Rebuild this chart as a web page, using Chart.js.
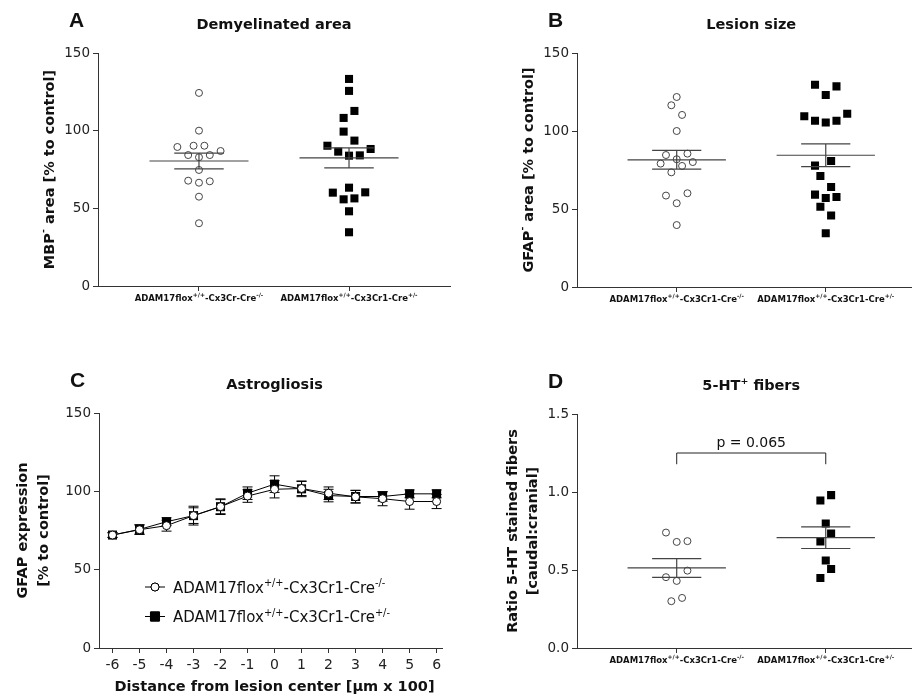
<!DOCTYPE html>
<html>
<head>
<meta charset="utf-8">
<script src="https://cdn.jsdelivr.net/npm/chart.js@4.4.1/dist/chart.umd.min.js"></script>
<style>
  body { margin: 0; background: #fff; }
  .panel { position: absolute; }
</style>
</head>
<body>
  <canvas id="chartA" class="panel" width="458" height="320" style="left:0;top:0"></canvas>
  <canvas id="chartB" class="panel" width="459" height="320" style="left:458px;top:0"></canvas>
  <canvas id="chartC" class="panel" width="458" height="378" style="left:0;top:320px"></canvas>
  <canvas id="chartD" class="panel" width="459" height="378" style="left:458px;top:320px"></canvas>
<script>
// ---------- data ----------
const groupLabelsA = ['ADAM17flox^{+/+}-Cx3Cr-Cre^{-/-}', 'ADAM17flox^{+/+}-Cx3Cr1-Cre^{+/-}'];
const groupLabels = ['ADAM17flox^{+/+}-Cx3Cr1-Cre^{-/-}', 'ADAM17flox^{+/+}-Cx3Cr1-Cre^{+/-}'];

// A: demyelinated area, MBP- area [% to control]
const demyWT = [124.3, 100, 89.5, 90.3, 90.3, 86.9, 84.3, 84.3, 82.9, 74.7, 67.8, 67.4, 66.5, 57.5, 40.4];
const demyWTJit = [0, 0, -4, -1, 1, 4, -2, 2, 0, 0, -2, 2, 0, 0, 0];
const demyKO = [133.3, 125.6, 112.7, 108.2, 99.4, 93.6, 90.3, 88.2, 86.5, 83.9, 84.1, 63.3, 60.1, 60.3, 55.8, 56.4, 48.1, 34.6];
const demyKOJit = [0, 0, 1, -1, -1, 1, -4, 4, -2, 0, 2, 0, -3, 3, -1, 1, 0, 0];

// B: lesion size, GFAP- area [% to control]
const lesionWT = [121.8, 116.5, 110.3, 100, 84.6, 85.5, 81.9, 79.1, 80.1, 77.6, 73.5, 60.1, 58.6, 53.7, 39.7];
const lesionWTJit = [0, -1, 1, 0, -2, 2, 0, -3, 3, 1, -1, 2, -2, 0, 0];
const lesionKO = [129.7, 128.6, 123.1, 109.4, 106.6, 105.4, 106.6, 111.1, 80.8, 77.8, 71.2, 64.1, 59.2, 57.1, 57.7, 51.5, 45.8, 34.4];
const lesionKOJit = [-2, 2, 0, -4, -2, 0, 2, 4, 1, -2, -1, 1, -2, 0, 2, -1, 1, 0];

// C: astrogliosis, GFAP expression [% to control] vs distance [µm x 100]
const distance = [-6, -5, -4, -3, -2, -1, 0, 1, 2, 3, 4, 5, 6];
const astroWT = [72.1, 75.5, 78.1, 84.5, 90.2, 97.0, 101.3, 101.8, 98.8, 96.5, 95.3, 93.5, 93.5];
const astroWTSem = [1.5, 3, 3.5, 5, 4.5, 4, 5.5, 4.5, 4, 4, 4.5, 4.9, 4.5];
const astroKO = [72.1, 75.7, 80.6, 84.5, 90.2, 98.8, 104.6, 101.6, 97.3, 96.7, 96.7, 98.4, 98.4];
const astroKOSem = [1.5, 3, 2.5, 6, 5, 4, 5.3, 5, 4, 4, 3, 2.5, 2.5];
const legendLabels = ['ADAM17flox^{+/+}-Cx3Cr1-Cre^{-/-}', 'ADAM17flox^{+/+}-Cx3Cr1-Cre^{+/-}'];

// D: 5-HT+ fibers, ratio caudal:cranial
const fibersWT = [0.740, 0.680, 0.685, 0.496, 0.454, 0.430, 0.321, 0.300];
const fibersWTJit = [-2, 0, 2, 2, -2, 0, 1, -1];
const fibersKO = [0.980, 0.946, 0.798, 0.734, 0.683, 0.561, 0.507, 0.449];
const fibersKOJit = [1, -1, 0, 1, -1, 0, 1, -1];
const pValueText = 'p = 0.065';

const ticksPercent = [0, 50, 100, 150];
const ticksRatio = [0, 0.5, 1.0, 1.5];

// ---------- styling ----------
const FONT = '"DejaVu Sans", Verdana, sans-serif';
const LETTER_FONT = '"Liberation Sans", Arial, sans-serif';
const INK = '#111';
const AXIS = '#333';
const SLOT = 0.036; // spacing of side-by-side dots, in group units

function meanSem(v) {
  const n = v.length;
  const m = v.reduce((a, b) => a + b, 0) / n;
  const sd = Math.sqrt(v.reduce((a, b) => a + (b - m) ** 2, 0) / (n - 1));
  return [m, sd / Math.sqrt(n)];
}

function parseRich(s) {
  const parts = [];
  const re = /\^\{([^}]*)\}/g;
  let last = 0, m;
  while ((m = re.exec(s))) {
    if (m.index > last) parts.push({ t: s.slice(last, m.index), sup: false });
    parts.push({ t: m[1], sup: true });
    last = re.lastIndex;
  }
  if (last < s.length) parts.push({ t: s.slice(last), sup: false });
  return parts;
}

// text with ^{superscripts}, baseline at y
function drawRich(ctx, s, x, y, o) {
  const parts = parseRich(s);
  const w8 = o.weight || 'normal';
  const fam = o.family || FONT;
  const base = w8 + ' ' + o.size + 'px ' + fam;
  const sup = w8 + ' ' + (o.size * (o.supScale || 0.65)) + 'px ' + fam;
  ctx.save();
  ctx.translate(x, y);
  if (o.rotate) ctx.rotate(o.rotate);
  let w = 0;
  parts.forEach(p => { ctx.font = p.sup ? sup : base; p.w = ctx.measureText(p.t).width; w += p.w; });
  let cx = o.align === 'left' ? 0 : -w / 2;
  ctx.fillStyle = o.color || INK;
  ctx.textBaseline = o.baseline || 'alphabetic';
  ctx.textAlign = 'left';
  parts.forEach(p => {
    ctx.font = p.sup ? sup : base;
    ctx.fillText(p.t, cx, p.sup ? -o.size * 0.42 : 0);
    cx += p.w;
  });
  ctx.restore();
}

const panels = {
  chartA: { letter: 'A', title: 'Demyelinated area', titleX: 1.5,
            yTitle: ['MBP^{-} area [% to control]'], yTitleOff: [-48],
            xLabels: groupLabelsA, groups: [demyWT, demyKO] },
  chartB: { letter: 'B', title: 'Lesion size', titleX: 1.5,
            yTitle: ['GFAP^{-} area [% to control]'], yTitleOff: [-48],
            xLabels: groupLabels, groups: [lesionWT, lesionKO] },
  chartC: { letter: 'C', title: 'Astrogliosis', titleX: 0,
            yTitle: ['GFAP expression', '[% to control]'], yTitleOff: [-76, -55],
            xTitle: 'Distance from lesion center [µm x 100]',
            errors: [astroWTSem, astroKOSem], legend: legendLabels },
  chartD: { letter: 'D', title: '5-HT^{+} fibers', titleX: 1.5,
            yTitle: ['Ratio 5-HT stained fibers', '[caudal:cranial]'], yTitleOff: [-64, -44],
            xLabels: groupLabels, groups: [fibersWT, fibersKO],
            bracket: { from: 1, to: 2, y: 1.25, drop: 0.072, text: pValueText } }
};

const decor = {
  id: 'decor',
  beforeDatasetsDraw(chart) {
    const p = panels[chart.canvas.id];
    if (!p.errors) return;
    const { ctx, scales: { x, y } } = chart;
    ctx.save();
    ctx.strokeStyle = '#000';
    ctx.lineWidth = 1;
    p.errors.forEach((sem, di) => {
      chart.data.datasets[di].data.forEach((pt, i) => {
        const px = x.getPixelForValue(pt.x);
        const top = y.getPixelForValue(pt.y + sem[i]);
        const bot = y.getPixelForValue(pt.y - sem[i]);
        ctx.beginPath();
        ctx.moveTo(px, top); ctx.lineTo(px, bot);
        ctx.moveTo(px - 5, top); ctx.lineTo(px + 5, top);
        ctx.moveTo(px - 5, bot); ctx.lineTo(px + 5, bot);
        ctx.stroke();
      });
    });
    ctx.restore();
  },
  afterDatasetsDraw(chart) {
    const p = panels[chart.canvas.id];
    if (!p.groups) return;
    const { ctx, scales: { x, y } } = chart;
    ctx.save();
    ctx.strokeStyle = '#444';
    ctx.lineWidth = 1.2;
    p.groups.forEach((vals, gi) => {
      const g = gi + 1;
      const [m, se] = meanSem(vals);
      const ym = y.getPixelForValue(m), yt = y.getPixelForValue(m + se), yb = y.getPixelForValue(m - se);
      const xl = x.getPixelForValue(g - 0.33), xr = x.getPixelForValue(g + 0.33);
      const sl = x.getPixelForValue(g - 0.165), sr = x.getPixelForValue(g + 0.165);
      const xc = x.getPixelForValue(g);
      ctx.beginPath();
      ctx.moveTo(xl, ym); ctx.lineTo(xr, ym);
      ctx.moveTo(sl, yt); ctx.lineTo(sr, yt);
      ctx.moveTo(sl, yb); ctx.lineTo(sr, yb);
      ctx.moveTo(xc, yt); ctx.lineTo(xc, yb);
      ctx.stroke();
    });
    ctx.restore();
  },
  afterDraw(chart) {
    const p = panels[chart.canvas.id];
    const { ctx, chartArea: a, scales: { x, y } } = chart;
    // panel letter + title
    ctx.save();
    ctx.fillStyle = INK;
    ctx.font = 'bold 21px ' + LETTER_FONT;
    ctx.textBaseline = 'alphabetic';
    ctx.textAlign = 'left';
    ctx.fillText(p.letter, a.left - 29, a.top - 26);
    ctx.restore();
    drawRich(ctx, p.title, x.getPixelForValue(p.titleX), a.top - 24, { size: 14.5, weight: 'bold' });
    // y title(s)
    const cy = (a.top + a.bottom) / 2;
    p.yTitle.forEach((t, i) => {
      drawRich(ctx, t, a.left + p.yTitleOff[i], cy, { size: 14.5, weight: 'bold', rotate: -Math.PI / 2, baseline: 'middle' });
    });
    // group labels under the x axis
    if (p.xLabels) {
      p.xLabels.forEach((t, i) => {
        drawRich(ctx, t, x.getPixelForValue(i + 1), a.bottom + 15, { size: 8.5, weight: 'bold', supScale: 0.7 });
      });
    }
    if (p.xTitle) {
      drawRich(ctx, p.xTitle, x.getPixelForValue(0), a.bottom + 43, { size: 14.5, weight: 'bold' });
    }
    // legend (panel C)
    if (p.legend) {
      p.legend.forEach((t, i) => {
        const ds = chart.data.datasets[i];
        const lx = a.left + 46, ly = a.bottom - 61 + i * 29.5;
        ctx.save();
        ctx.strokeStyle = '#000';
        ctx.lineWidth = 1;
        ctx.beginPath(); ctx.moveTo(lx, ly); ctx.lineTo(lx + 20, ly); ctx.stroke();
        Chart.helpers.drawPoint(ctx, {
          pointStyle: ds.pointStyle, radius: ds.pointRadius, borderWidth: ds.borderWidth, rotation: 0
        }, lx + 10, ly);
        ctx.fillStyle = ds.pointBackgroundColor;
        ctx.strokeStyle = '#000';
        ctx.fill();
        if (ds.borderWidth) ctx.stroke();
        ctx.restore();
        drawRich(ctx, t, lx + 28, ly + 5.5, { size: 15, align: 'left' });
      });
    }
    // significance bracket (panel D)
    if (p.bracket) {
      const b = p.bracket;
      const x1 = x.getPixelForValue(b.from), x2 = x.getPixelForValue(b.to);
      const yt = y.getPixelForValue(b.y), yd = y.getPixelForValue(b.y - b.drop);
      ctx.save();
      ctx.strokeStyle = '#222';
      ctx.lineWidth = 1;
      ctx.beginPath();
      ctx.moveTo(x1, yd); ctx.lineTo(x1, yt); ctx.lineTo(x2, yt); ctx.lineTo(x2, yd);
      ctx.stroke();
      ctx.restore();
      drawRich(ctx, b.text, (x1 + x2) / 2, yt - 6, { size: 14 });
    }
  }
};

function dots(values, jit, group, open) {
  return {
    data: values.map((v, i) => ({ x: group + jit[i] * SLOT, y: v })),
    pointStyle: open ? 'circle' : 'rect',
    pointRadius: open ? 3.5 : 5.7,
    borderWidth: open ? 1 : 0,
    borderColor: open ? '#444' : '#000',
    backgroundColor: open ? 'rgba(255,255,255,0)' : '#000'
  };
}

function gridOpts() {
  return {
    grid: { drawOnChartArea: false, drawTicks: true, tickLength: 5, color: AXIS, tickColor: AXIS, lineWidth: 1 },
    border: { display: true, color: AXIS, width: 1 }
  };
}

function yAxis(max, ticks, width, digits) {
  return Object.assign(gridOpts(), {
    min: 0, max: max,
    afterBuildTicks: s => { s.ticks = ticks.map(v => ({ value: v })); },
    afterFit: s => { s.width = width; },
    ticks: { font: { family: FONT, size: 13.5 }, color: '#222', padding: 3,
             callback: v => v.toFixed(digits) }
  });
}

function groupAxis(min, max, height) {
  return Object.assign(gridOpts(), {
    type: 'linear', min: min, max: max,
    afterBuildTicks: s => { s.ticks = [{ value: 1 }, { value: 2 }]; },
    afterFit: s => { s.height = height; },
    ticks: { display: false }
  });
}

const common = {
  responsive: false,
  animation: false,
  events: [],
  plugins: { legend: { display: false }, tooltip: { enabled: false } }
};

function scatterPanel(id, wt, wtJit, ko, koJit, yMax, yTicks, digits, xMin, xMax, pad, yWidth, xHeight) {
  new Chart(document.getElementById(id), {
    type: 'scatter',
    data: { datasets: [dots(wt, wtJit, 1, true), dots(ko, koJit, 2, false)] },
    options: Object.assign({}, common, {
      layout: { padding: pad },
      scales: { x: groupAxis(xMin, xMax, xHeight), y: yAxis(yMax, yTicks, yWidth, digits) }
    }),
    plugins: [decor]
  });
}

scatterPanel('chartA', demyWT, demyWTJit, demyKO, demyKOJit, 150, ticksPercent, 0,
  0.327, 2.673, { left: 0, top: 53, right: 8, bottom: 0 }, 98, 34);
scatterPanel('chartB', lesionWT, lesionWTJit, lesionKO, lesionKOJit, 150, ticksPercent, 0,
  0.331, 2.574, { left: 0, top: 53, right: 1, bottom: 0 }, 119, 33);
scatterPanel('chartD', fibersWT, fibersWTJit, fibersKO, fibersKOJit, 1.5, ticksRatio, 1,
  0.331, 2.574, { left: 0, top: 94, right: 1, bottom: 0 }, 119, 50);

new Chart(document.getElementById('chartC'), {
  type: 'line',
  data: {
    datasets: [
      { data: distance.map((d, i) => ({ x: d, y: astroWT[i] })), borderColor: '#000', borderWidth: 1,
        pointStyle: 'circle', pointRadius: 4, pointBorderWidth: 1, pointBorderColor: '#000',
        pointBackgroundColor: '#fff' },
      { data: distance.map((d, i) => ({ x: d, y: astroKO[i] })), borderColor: '#000', borderWidth: 1,
        pointStyle: 'rect', pointRadius: 6.4, pointBorderWidth: 0, pointBorderColor: '#000',
        pointBackgroundColor: '#000' }
    ]
  },
  options: Object.assign({}, common, {
    layout: { padding: { left: 0, top: 93, right: 16, bottom: 0 } },
    scales: {
      x: Object.assign(gridOpts(), {
        type: 'linear', min: -6.5, max: 6.2,
        afterBuildTicks: s => { s.ticks = distance.map(v => ({ value: v })); },
        afterFit: s => { s.height = 50; },
        ticks: { font: { family: FONT, size: 14 }, color: '#222', padding: 4, autoSkip: false, maxRotation: 0,
                 callback: v => String(v) }
      }),
      y: yAxis(150, ticksPercent, 99, 0)
    }
  }),
  plugins: [decor]
});
</script>
</body>
</html>
